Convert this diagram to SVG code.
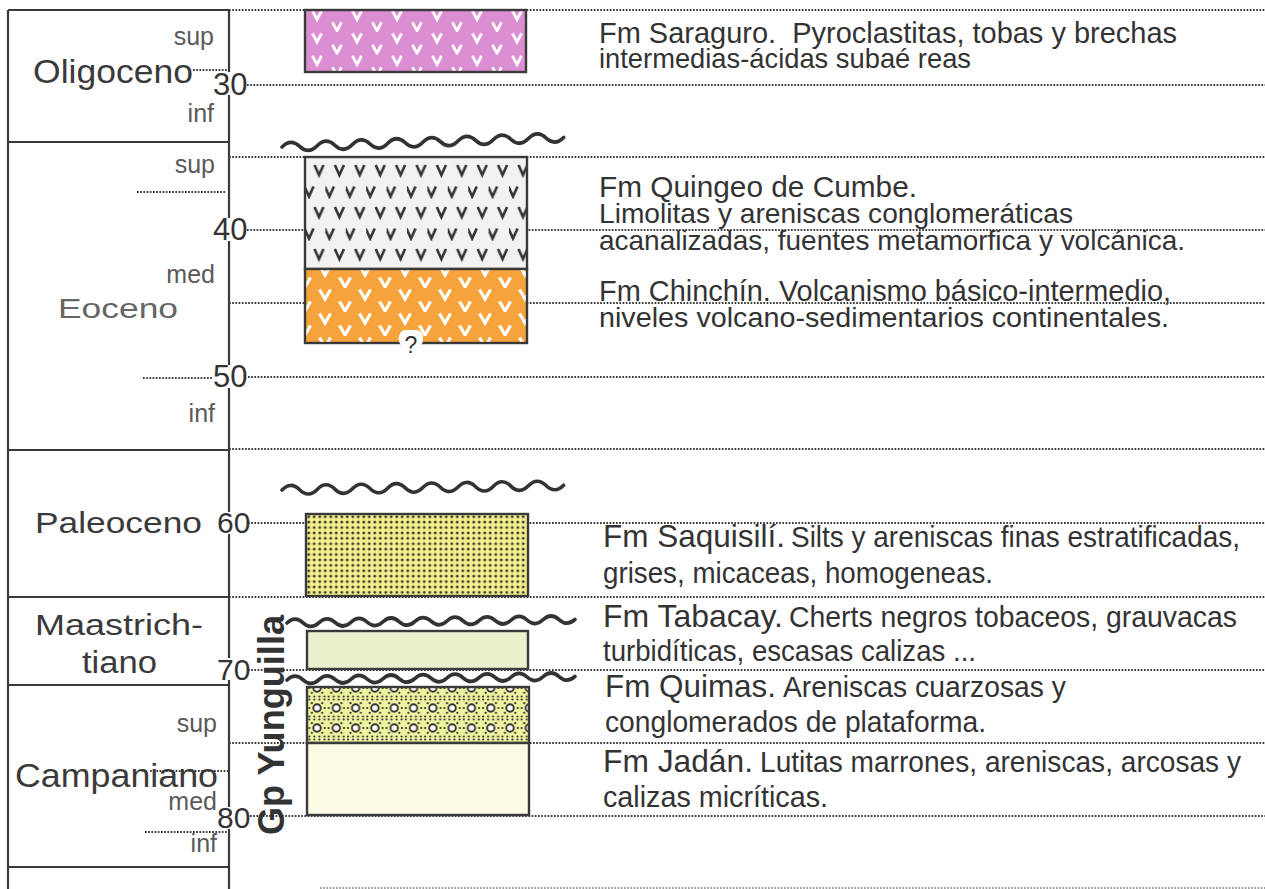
<svg xmlns="http://www.w3.org/2000/svg" width="1265" height="889" viewBox="0 0 1265 889">
<style>
.frame{stroke:#3a3a3a;stroke-width:2.2;fill:none}
.dot{stroke:#3a3a3a;stroke-width:1.8;stroke-dasharray:1.7 1.5;fill:none}
.box{stroke:#3a3a3a;stroke-width:2.4}
.wave{stroke:#333;stroke-width:3.6;fill:none;stroke-linecap:round}
.lbl{font-family:"Liberation Sans",Arial,sans-serif;fill:#3a3a3a}
.sub{font-family:"Liberation Sans",Arial,sans-serif;fill:#5a5a5a;font-size:25px;text-anchor:end}
.num{font-family:"Liberation Sans",Arial,sans-serif;fill:#333;font-size:31px}
.desc{font-family:"Liberation Sans Narrow","Liberation Sans",Arial,sans-serif;fill:#333}
.bg{fill:#fff}
</style>
<defs>
<pattern id="pPink" patternUnits="userSpaceOnUse" x="305" y="9.5" width="40" height="22.5">
<rect width="40" height="22.5" fill="#dc8ed2"/>
<path d="M7.5,1.5 L12,10 L16.5,1.5 M27.5,12.8 L32,21.3 L36.5,12.8" stroke="#fff" stroke-width="2.8" fill="none"/>
</pattern>
<pattern id="pGrey" patternUnits="userSpaceOnUse" x="305" y="157" width="20.4" height="42">
<rect width="20.4" height="42" fill="#f2f2f2"/>
<path d="M9.5,8 L14,18 L18.5,8 M-0.5,29.5 L4,39.5 L8.5,29.5" stroke="#333" stroke-width="2.6" fill="none"/>
</pattern>
<pattern id="pOrange" patternUnits="userSpaceOnUse" x="305" y="264" width="40" height="24">
<rect width="40" height="24" fill="#f6a33c"/>
<path d="M14.5,1.5 L20,11 L25.5,1.5 M-5.5,13.5 L0,23 L5.5,13.5 M34.5,13.5 L40,23 L45.5,13.5" stroke="#fff" stroke-width="3.2" fill="none"/>
</pattern>
<pattern id="pDots" patternUnits="userSpaceOnUse" x="306" y="514" width="5.5" height="5.4">
<rect width="5.5" height="5.4" fill="#f3ef8a"/>
<circle cx="2.75" cy="2.7" r="1.45" fill="#333"/>
</pattern>
<pattern id="pCong" patternUnits="userSpaceOnUse" x="307.4" y="678" width="19.3" height="20">
<rect width="19.3" height="20" fill="#eff39f"/>
<g fill="#333">
<circle cx="2" cy="1.5" r="1.1"/><circle cx="7" cy="1.5" r="1.1"/><circle cx="12" cy="1.5" r="1.1"/><circle cx="17" cy="1.5" r="1.1"/>
<circle cx="4.5" cy="5.2" r="1.1"/><circle cx="14.8" cy="5.2" r="1.1"/>
<circle cx="2" cy="10" r="1.1"/><circle cx="17.3" cy="10" r="1.1"/>
<circle cx="4.5" cy="14.8" r="1.1"/><circle cx="14.8" cy="14.8" r="1.1"/>
<circle cx="2" cy="18.5" r="1.1"/><circle cx="7" cy="18.5" r="1.1"/><circle cx="12" cy="18.5" r="1.1"/><circle cx="17" cy="18.5" r="1.1"/>
</g>
<circle cx="9.65" cy="10" r="3.7" fill="#fff" stroke="#333" stroke-width="1.9"/>
</pattern>
</defs>

<rect width="1265" height="889" fill="#fff"/>

<g id="guides">
<line class="dot" x1="229" y1="10" x2="1265" y2="10"/>
<line class="dot" x1="247" y1="85" x2="1265" y2="85"/>
<line class="dot" x1="229" y1="157" x2="1265" y2="157"/>
<line class="dot" x1="247" y1="230" x2="1265" y2="230"/>
<line class="dot" x1="229" y1="303" x2="1265" y2="303"/>
<line class="dot" x1="248" y1="377" x2="1265" y2="377"/>
<line class="dot" x1="229" y1="449" x2="1265" y2="449"/>
<line class="dot" x1="248" y1="523" x2="1265" y2="523"/>
<line class="dot" x1="229" y1="597" x2="1265" y2="597"/>
<line class="dot" x1="248" y1="670" x2="1265" y2="670"/>
<line class="dot" x1="229" y1="743" x2="1265" y2="743"/>
<line class="dot" x1="250" y1="816" x2="1265" y2="816"/>
<line class="dot" x1="320" y1="888" x2="1265" y2="888" stroke-opacity="0.5"/>
<line class="dot" x1="193" y1="70" x2="228" y2="70"/>
<line class="dot" x1="137" y1="192" x2="226" y2="192"/>
<line class="dot" x1="143" y1="378" x2="213" y2="378"/>
<line class="dot" x1="150" y1="771" x2="228" y2="771"/>
<line class="dot" x1="145" y1="832" x2="228" y2="832"/>
</g>

<g id="timescale">
<path class="frame" d="M8,10 H229 M8,10 V889 M229,10 V889 M8,142 H229 M8,450 H229 M8,597 H229 M8,685 H229 M8,867 H229"/>
<text class="sub" x="214" y="45">sup</text>
<text class="lbl" x="33" y="83" font-size="34" textLength="160" lengthAdjust="spacingAndGlyphs">Oligoceno</text>
<text class="sub" x="214" y="122">inf</text>
<text class="sub" x="215" y="173">sup</text>
<text class="sub" x="215" y="283">med</text>
<text class="lbl" x="58" y="318" font-size="27" style="fill:#666" textLength="120" lengthAdjust="spacingAndGlyphs">Eoceno</text>
<text class="sub" x="215" y="422">inf</text>
<text class="lbl" x="35" y="533" font-size="30" textLength="167" lengthAdjust="spacingAndGlyphs">Paleoceno</text>
<text class="lbl" x="35" y="635" font-size="30" textLength="168" lengthAdjust="spacingAndGlyphs">Maastrich-</text>
<text class="lbl" x="82" y="673" font-size="31" textLength="75" lengthAdjust="spacingAndGlyphs">tiano</text>
<text class="sub" x="217" y="732">sup</text>
<text class="lbl" x="15" y="787" font-size="34" textLength="203" lengthAdjust="spacingAndGlyphs">Campaniano</text>
<text class="sub" x="217" y="810">med</text>
<text class="sub" x="217" y="852">inf</text>
<rect class="bg" x="213" y="72" width="34" height="23"/>
<text class="num" x="213" y="95">30</text>
<rect class="bg" x="213" y="218" width="34" height="23"/>
<text class="num" x="213" y="240">40</text>
<rect class="bg" x="213" y="365" width="35" height="23"/>
<text class="num" x="213" y="387">50</text>
<rect class="bg" x="217" y="512" width="32" height="22"/>
<text class="num" x="217" y="533" style="font-size:30px">60</text>
<rect class="bg" x="217" y="658" width="32" height="22"/>
<text class="num" x="217" y="680" style="font-size:30px">70</text>
<rect class="bg" x="217" y="807" width="33" height="22"/>
<text class="num" x="217" y="828" style="font-size:30px">80</text>
</g>

<g id="saraguro">
<rect class="box" x="305" y="10" width="221" height="62" fill="url(#pPink)"/>
<text class="desc" x="599" y="43" font-size="29" textLength="578" lengthAdjust="spacingAndGlyphs">Fm Saraguro.&#160; Pyroclastitas, tobas y brechas</text>
<text class="desc" x="599" y="68" font-size="28" textLength="372" lengthAdjust="spacingAndGlyphs">intermedias-ácidas subaé reas</text>
</g>

<g id="quingeo">
<rect class="box" x="305" y="157" width="222" height="112" fill="url(#pGrey)"/>
<text class="desc" x="599" y="197" font-size="30" textLength="318" lengthAdjust="spacingAndGlyphs">Fm Quingeo de Cumbe.</text>
<text class="desc" x="599" y="223" font-size="28" textLength="474" lengthAdjust="spacingAndGlyphs">Limolitas y areniscas conglomeráticas</text>
<text class="desc" x="599" y="250" font-size="28" textLength="586" lengthAdjust="spacingAndGlyphs">acanalizadas, fuentes metamorfica y volcánica.</text>
</g>

<g id="chinchin">
<rect class="box" x="305" y="269" width="222" height="74" fill="url(#pOrange)"/>
<rect x="399" y="330" width="24" height="17" rx="7" fill="#fff"/>
<text class="lbl" x="411" y="353" font-size="23" text-anchor="middle" style="fill:#333">?</text>
<text class="desc" x="599" y="301" font-size="29" textLength="572" lengthAdjust="spacingAndGlyphs">Fm Chinchín. Volcanismo básico-intermedio,</text>
<text class="desc" x="599" y="327" font-size="28" textLength="570" lengthAdjust="spacingAndGlyphs">niveles volcano-sedimentarios continentales.</text>
</g>

<g id="saquisili">
<rect class="box" x="306" y="514" width="222" height="82" fill="url(#pDots)"/>
<text class="desc" x="603" y="547" font-size="32" textLength="182" lengthAdjust="spacingAndGlyphs">Fm Saquisilí.</text>
<text class="desc" x="791" y="547" font-size="29" textLength="449" lengthAdjust="spacingAndGlyphs">Silts y areniscas finas estratificadas,</text>
<text class="desc" x="603" y="583" font-size="29" textLength="390" lengthAdjust="spacingAndGlyphs">grises, micaceas, homogeneas.</text>
</g>

<g id="tabacay">
<rect class="box" x="307" y="631" width="221" height="38" fill="#edf0cd"/>
<text class="desc" x="603" y="627" font-size="32" textLength="180" lengthAdjust="spacingAndGlyphs">Fm Tabacay.</text>
<text class="desc" x="789" y="627" font-size="29" textLength="448" lengthAdjust="spacingAndGlyphs">Cherts negros tobaceos, grauvacas</text>
<text class="desc" x="603" y="661" font-size="29" textLength="373" lengthAdjust="spacingAndGlyphs">turbidíticas, escasas calizas ...</text>
</g>

<g id="quimas">
<rect class="box" x="307" y="687" width="222" height="56" fill="url(#pCong)"/>
<text class="desc" x="605" y="697" font-size="32" textLength="171" lengthAdjust="spacingAndGlyphs">Fm Quimas.</text>
<text class="desc" x="783" y="697" font-size="29" textLength="283" lengthAdjust="spacingAndGlyphs">Areniscas cuarzosas y</text>
<text class="desc" x="605" y="732" font-size="29" textLength="381" lengthAdjust="spacingAndGlyphs">conglomerados de plataforma.</text>
</g>

<g id="jadan">
<rect class="box" x="307" y="743" width="222" height="72" fill="#fbfbe6"/>
<text class="desc" x="603" y="772" font-size="32" textLength="150" lengthAdjust="spacingAndGlyphs">Fm Jadán.</text>
<text class="desc" x="760" y="772" font-size="29" textLength="481" lengthAdjust="spacingAndGlyphs">Lutitas marrones, areniscas, arcosas y</text>
<text class="desc" x="603" y="807" font-size="29" textLength="225" lengthAdjust="spacingAndGlyphs">calizas micríticas.</text>
</g>

<g id="unconformities">
<path class="wave" d="M282,147 q8.8,-9 17.6,-0.6 t17.6,-0.6 t17.6,-0.6 t17.6,-0.6 t17.6,-0.6 t17.6,-0.6 t17.6,-0.6 t17.6,-0.6 t17.6,-0.6 t17.6,-0.6 t17.6,-0.6 t17.6,-0.6 t17.6,-0.6 t17.6,-0.6 t17.6,-0.6 t17.6,-0.6"/>
<path class="wave" d="M282,490 q8.8,-9 17.6,-0.3 t17.6,-0.3 t17.6,-0.3 t17.6,-0.3 t17.6,-0.3 t17.6,-0.3 t17.6,-0.3 t17.6,-0.3 t17.6,-0.3 t17.6,-0.3 t17.6,-0.3 t17.6,-0.3 t17.6,-0.3 t17.6,-0.3 t17.6,-0.3 t17.6,-0.3"/>
<path class="wave" d="M287,623 q8,-7.5 16,-0.2 t16,-0.2 t16,-0.2 t16,-0.2 t16,-0.2 t16,-0.2 t16,-0.2 t16,-0.2 t16,-0.2 t16,-0.2 t16,-0.2 t16,-0.2 t16,-0.2 t16,-0.2 t16,-0.2 t16,-0.2 t16,-0.2 t16,-0.2"/>
<path class="wave" d="M287,680 q8,-7.5 16,-0.2 t16,-0.2 t16,-0.2 t16,-0.2 t16,-0.2 t16,-0.2 t16,-0.2 t16,-0.2 t16,-0.2 t16,-0.2 t16,-0.2 t16,-0.2 t16,-0.2 t16,-0.2 t16,-0.2 t16,-0.2 t16,-0.2 t16,-0.2"/>
</g>

<g id="yunguilla">
<text class="lbl" transform="translate(284,835) rotate(-90)" font-size="36" font-weight="bold" style="fill:#333" textLength="220" lengthAdjust="spacingAndGlyphs">Gp Yunguilla</text>
</g>
</svg>
